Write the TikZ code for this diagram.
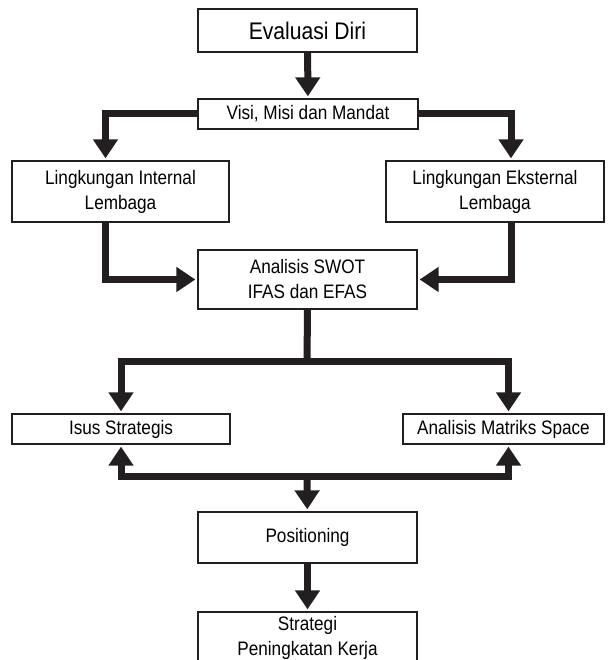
\documentclass[tikz,border=0pt]{standalone}
\usepackage{fontspec}
\setmainfont{Liberation Sans}[FakeStretch=0.88]
\usetikzlibrary{arrows.meta}
\definecolor{ink}{HTML}{231F20}
\tikzset{
	box/.style={draw=ink, line width=1.3pt, inner sep=2pt, align=center,
		font=\fontsize{19.5}{25}\selectfont},
	conn/.style={draw=ink, line width=7pt, -{Triangle[width=24pt,length=19pt]}, shorten >=2pt},
	bar/.style={draw=ink, line width=7pt}
}
\begin{document}
\begin{tikzpicture}[x=1pt,y=1pt]
		\clip (0,0) rectangle (611,660);
		\node[box, minimum width=219pt, minimum height=43pt, font=\fontsize{24}{26}\selectfont] (eval) at (307.5,629.5) {Evaluasi Diri};
		\node[box, minimum width=220pt, minimum height=30pt] (visi) at (308,546) {Visi, Misi dan Mandat};
		\node[box, minimum width=217pt, minimum height=61pt] (intern) at (120.5,468.5) {Lingkungan Internal\\Lembaga};
		\node[box, minimum width=218pt, minimum height=61pt] (ekstern) at (495,468.5) {Lingkungan Eksternal\\Lembaga};
		\node[box, minimum width=219pt, minimum height=59pt] (swot) at (307.5,380.5) {Analisis SWOT\\IFAS dan EFAS};
		\node[box, minimum width=218pt, minimum height=30pt] (isus) at (121,231) {Isus Strategis};
		\node[box, minimum width=201pt, minimum height=30pt] (matriks) at (503.5,231) {Analisis Matriks Space};
		\node[box, minimum width=219pt, minimum height=51pt] (posit) at (307.5,122.5) {Positioning};
		\node[box, minimum width=219pt, minimum height=52pt, inner sep=0pt] (strat) at (307.5,22) {Strategi\\Peningkatan Kerja};
		% bend points
		\coordinate (split) at (307,298);
		\coordinate (merge) at (307,183);
		\draw[conn] (eval) -- (visi);
		\draw[conn] (visi.west) -| ([xshift=-15pt]intern.north);
		\draw[conn] (visi.east) -| ([xshift=16pt]ekstern.north);
		\draw[conn] ([xshift=-15pt]intern.south) |- (swot.west);
		\draw[conn] ([xshift=16pt]ekstern.south) |- (swot.east);
		\draw[bar] (swot.south) -- (split);
		\draw[conn] (split) -| (isus.north);
		\draw[conn] (split) -| ([xshift=5pt]matriks.north);
		\draw[conn] (merge) -| (isus.south);
		\draw[conn] (merge) -| ([xshift=5pt]matriks.south);
		\draw[conn] (merge) -- (posit);
		\draw[conn] (posit) -- (strat);
	\end{tikzpicture}
\end{document}
